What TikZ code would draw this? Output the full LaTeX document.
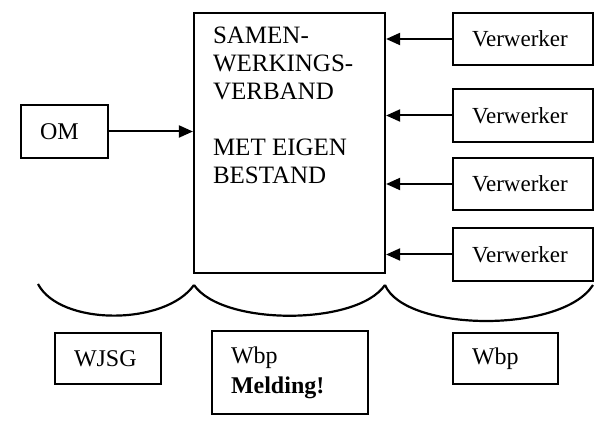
\documentclass[tikz,border=0pt]{standalone}
\usepackage{fontspec}
\setmainfont{Liberation Serif}
\usetikzlibrary{arrows.meta}
\begin{document}
\begin{tikzpicture}[x=0.5pt, y=-0.5pt,
        box/.style={draw, line width=1.1pt, inner xsep=9.5pt, inner ysep=0pt, align=left,
            font=\fontsize{12}{15}\selectfont},
        feed/.style={line width=1pt, -{Triangle[length=7pt,width=6pt]}},
        curl/.style={line width=1.1pt}]
        \useasboundingbox (0,0) rectangle (600,421);

        \node [box, text width=24.5pt, minimum height=26.5pt] (OM) at (64.5, 131.5) {OM};
        \node [box, inner ysep=7pt, font=\fontsize{12.5}{14}\selectfont] (Verband) at (289.5, 143)
            {\parbox[t][116pt][t]{76.5pt}{SAMEN-\\WERKINGS-\\VERBAND\\[14pt]MET EIGEN\\BESTAND}};
        \node [box, text width=51pt, minimum height=26pt, font=\fontsize{11.5}{13}\selectfont] (Verwerker1) at (523, 39) {Verwerker};
        \node [box, text width=51pt, minimum height=26.5pt, font=\fontsize{11.5}{13}\selectfont] (Verwerker2) at (523, 115.5) {Verwerker};
        \node [box, text width=51pt, minimum height=26pt, font=\fontsize{11.5}{13}\selectfont] (Verwerker3) at (523, 184) {Verwerker};
        \node [box, text width=51pt, minimum height=26.5pt, font=\fontsize{11.5}{13}\selectfont] (Verwerker4) at (523, 254.5) {Verwerker};
        \node [box, text width=34pt, minimum height=25.5pt] (WJSG) at (108, 358.5) {WJSG};
        \node [box, text width=59pt, minimum height=41.5pt] (Melding) at (290, 372.5) {Wbp\\\textbf{Melding!}};
        \node [box, text width=33.5pt, minimum height=25.5pt] (Wbp) at (505.5, 358.5) {Wbp};

        % Edges
        \draw [feed] (OM) -- (OM -| Verband.west);
        \foreach \n in {1,...,4}
            \draw [feed] (Verwerker\n) -- (Verwerker\n -| Verband.east);

        % Braces
        \coordinate (cuspL) at (194, 285);
        \coordinate (cuspR) at (385, 285);
        \draw [curl] (38, 284) .. controls (60, 326) and (165, 326) .. (cuspL);
        \draw [curl] (cuspL) .. controls (222, 326) and (357, 326) .. (cuspR);
        \draw [curl] (cuspR) .. controls (405, 332) and (562, 334) .. (593, 285);
\end{tikzpicture}
\end{document}
